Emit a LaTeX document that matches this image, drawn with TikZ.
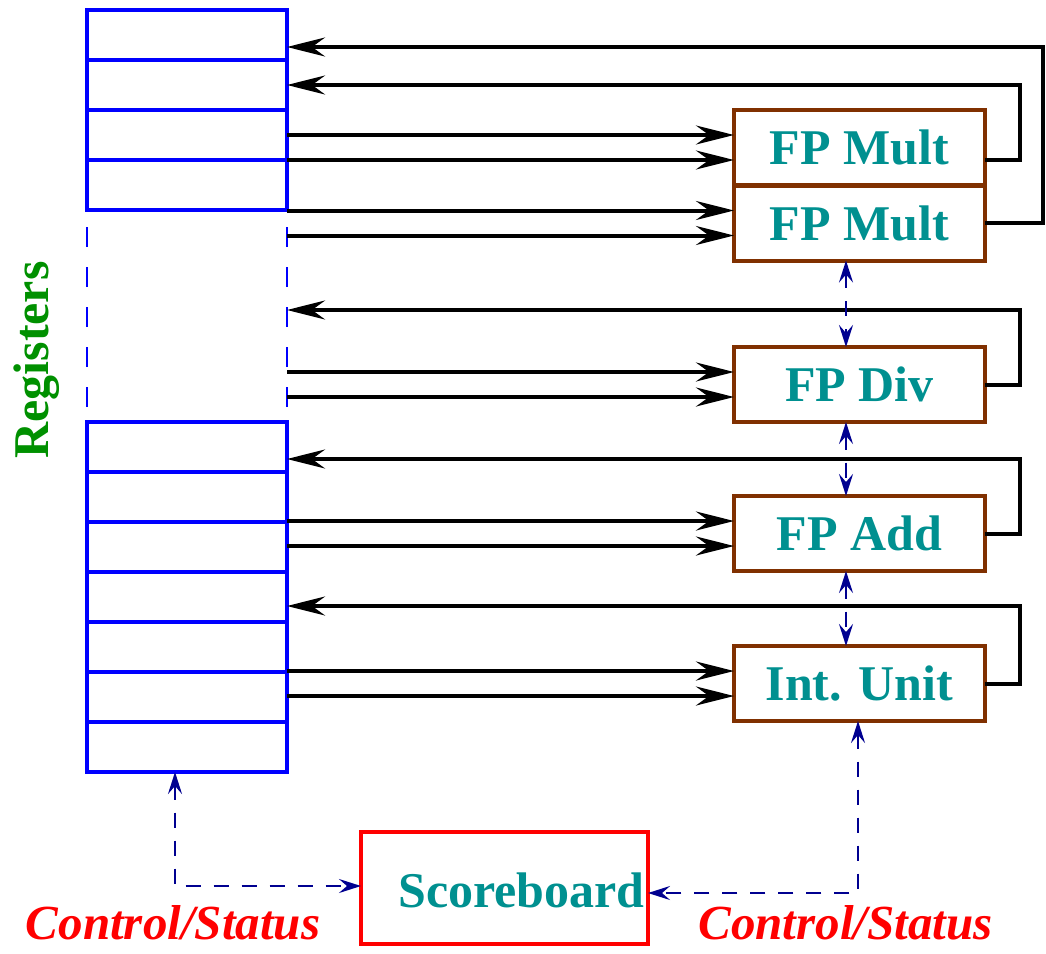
\documentclass[tikz,border=0pt]{standalone}
\usepackage{fontspec}
\setmainfont{Liberation Serif}
\usetikzlibrary{arrows.meta,calc}
\definecolor{regblue}{RGB}{0,0,255}
\definecolor{unitbrown}{RGB}{128,48,0}
\definecolor{tealtxt}{RGB}{0,144,144}
\definecolor{ctrlnavy}{RGB}{0,0,144}
\definecolor{greentxt}{RGB}{0,144,0}
\begin{document}
\begin{tikzpicture}[x=1pt,y=-1pt,
  cell/.style={draw=regblue,line width=4pt,minimum width=200pt,minimum height=50pt,inner sep=0pt,outer sep=0pt,anchor=north west},
  unit/.style={draw=unitbrown,line width=4pt,minimum width=251pt,minimum height=75pt,inner sep=0pt,outer sep=0pt,text=tealtxt,font=\fontsize{50}{60}\selectfont\bfseries},
  data/.style={line width=4pt,-{Stealth[length=38pt,width=19pt,inset=13pt]}},
  ctrl/.style={ctrlnavy,line width=2.5pt,dash pattern=on 15pt off 13pt,{Stealth[length=22pt,width=14pt,inset=8pt]}-{Stealth[length=22pt,width=14pt,inset=8pt]}},
  bigtxt/.style={font=\fontsize{50}{60}\selectfont\bfseries},
  cstxt/.style={text=red,font=\fontsize{49}{60}\selectfont\bfseries\itshape,anchor=base,inner sep=0pt}
]
\useasboundingbox (0,0) rectangle (1046,953);

% register cells
\foreach \i/\y in {1/10,2/60,3/110,4/160}
  \node[cell] (c\i) at (87,\y) {};
\foreach \i/\y in {5/422,6/472,7/522,8/572,9/622,10/672,11/722}
  \node[cell] (c\i) at (87,\y) {};
\draw[regblue,line width=2.5pt,dash pattern=on 20pt off 20pt,dash phase=23pt] (c4.south west) -- (c5.north west);
\draw[regblue,line width=2.5pt,dash pattern=on 20pt off 20pt,dash phase=23pt] (c4.south east) -- (c5.north east);

% functional units
\node[unit] (m1) at (859.5,147.5) {FP Mult};
\node[unit] (m2) at (859.5,223) {FP Mult};
\node[unit] (dv) at (859.5,384.5) {FP Div};
\node[unit] (ad) at (859.5,533.5) {FP Add};
\node[unit] (iu) at (859.5,683.5) {Int. Unit};

% operand arrows
\foreach \u in {m1,m2,dv,ad,iu}{
  \coordinate (\u-a) at ($(\u.west)+(0,-12.5)$);
  \coordinate (\u-b) at ($(\u.west)+(0,12.5)$);
  \draw[data] (\u-a -| c1.east) -- (\u-a);
  \draw[data] (\u-b -| c1.east) -- (\u-b);
}

% result arrows
\coordinate (t2) at ([yshift=-12pt]c1.east);
\coordinate (t3) at (c1.east |- 0,310);
\coordinate (t4) at ([yshift=-12pt]c5.east);
\coordinate (t5) at (c1.east |- 0,606);
\draw[data] ([yshift=-12.5pt]m1.east) -- ++(35,0) |- (c2.east);
\draw[data] (m2.east) -- ++(58,0) |- (t2);
\draw[data] (dv.east) -- ++(35,0) |- (t3);
\draw[data] (ad.east) -- ++(35,0) |- (t4);
\draw[data] (iu.east) -- ++(35,0) |- (t5);

% scoreboard
\node[draw=red,line width=4pt,minimum width=287pt,minimum height=112pt,inner sep=0pt,outer sep=0pt,
  label={[xshift=17pt,yshift=-2pt,text=tealtxt,bigtxt]center:Scoreboard}] (sb) at (504.5,888) {};

% control links between units
\draw[ctrl] ([xshift=-13.5pt]m2.south) -- ([xshift=-13.5pt]dv.north);
\draw[ctrl] ([xshift=-13.5pt]dv.south) -- ([xshift=-13.5pt]ad.north);
\draw[ctrl] ([xshift=-13.5pt]ad.south) -- ([xshift=-13.5pt]iu.north);

% control / status to scoreboard
\draw[ctrl] ([xshift=-12pt]c11.south) |- ([yshift=2pt]sb.west);
\draw[ctrl] ([xshift=-1.5pt]iu.south) |- ([yshift=-5pt]sb.east);

% labels
\node[rotate=90,text=greentxt,bigtxt] (rg) at (37,360) {Registers};
\node[cstxt] (cs1) at (173,939) {Control/Status};
\node[cstxt] (cs2) at (845.5,939) {Control/Status};
\end{tikzpicture}
\end{document}
